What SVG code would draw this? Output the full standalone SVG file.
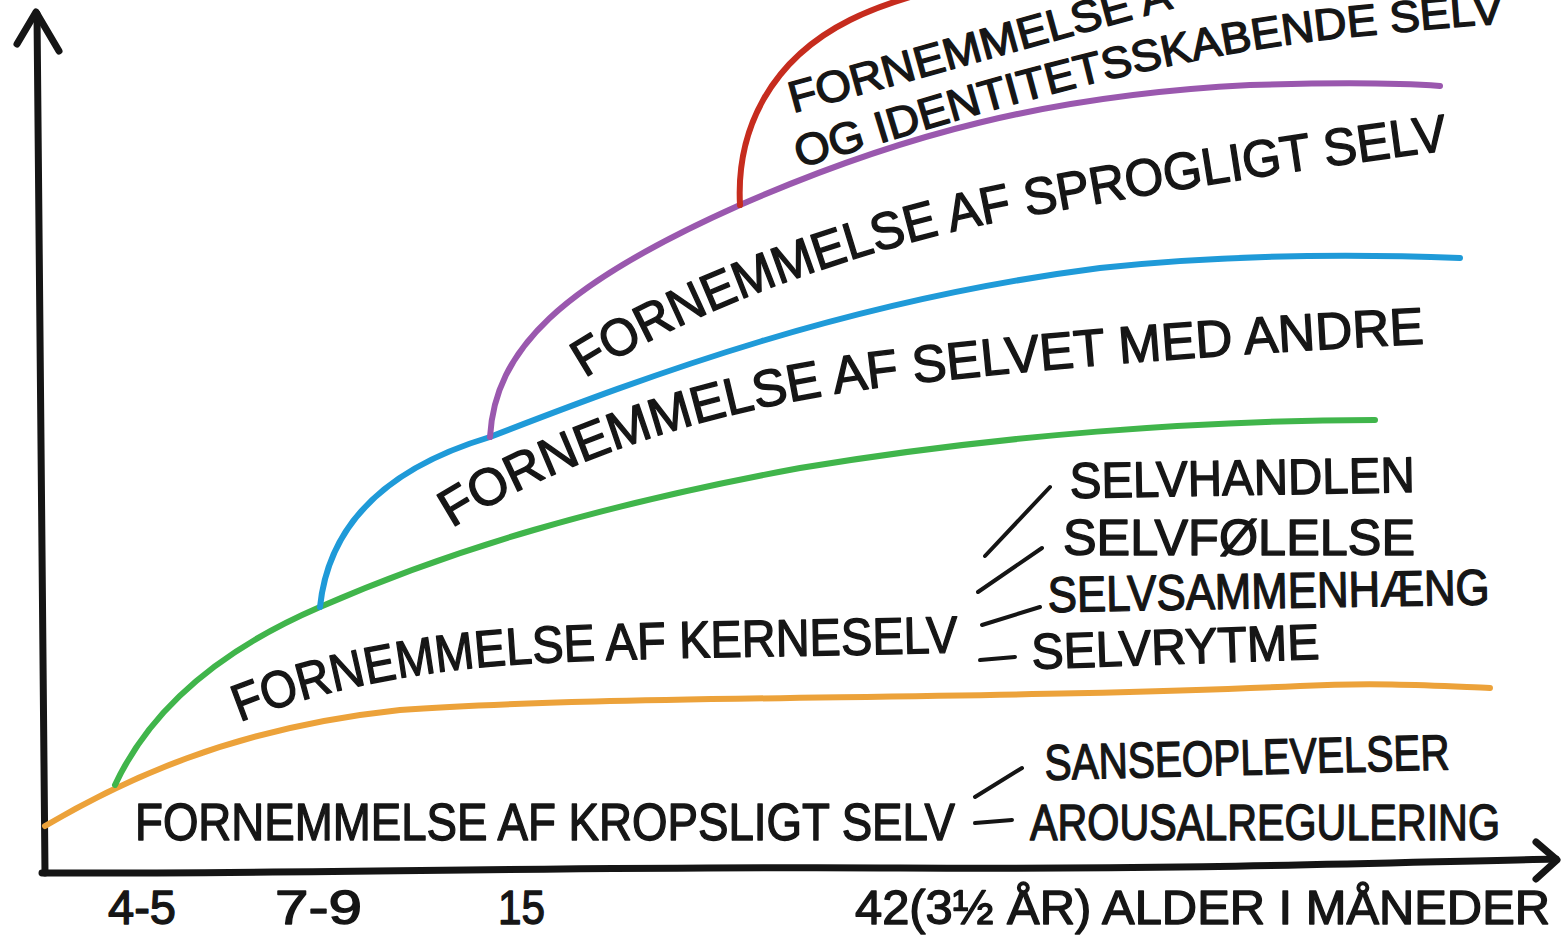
<svg xmlns="http://www.w3.org/2000/svg" width="1564" height="936" viewBox="0 0 1564 936">
  <style>
    .axis { fill: none; stroke: #151515; stroke-width: 7; stroke-linecap: round; stroke-linejoin: round; }
    .curve { fill: none; stroke-width: 6; stroke-linecap: round; }
    .dash { fill: none; stroke: #151515; stroke-width: 4; stroke-linecap: round; }
    .t { font-family: "Liberation Sans", "DejaVu Sans", sans-serif; fill: #161616; stroke: #161616; stroke-width: 1.4; stroke-linejoin: round; }
    .main { font-size: 52px; }
    .top { font-size: 44px; }
    .sub { font-size: 50px; }
    .tick { font-size: 48px; }
  </style>
  <defs>
    <path id="p-top" d="M793,113 C 900,84 1050,41 1200,1"/>
    <path id="p-ident" d="M800,168 C 950,122 1150,57 1350,37 S 1480,27 1525,27"/>
    <path id="p-sprog" d="M585,378 C 700,305 880,240 1050,212 C 1200,185 1330,165 1480,146"/>
    <path id="p-andre" d="M452,528 C 560,460 720,405 900,385 C 1100,362 1300,350 1440,343"/>
    <path id="p-kerne" d="M240,722 C 320,690 420,668 560,662 C 700,656 850,656 970,652"/>
  </defs>
  <rect width="1564" height="936" fill="#ffffff"/>

  <g id="axes">
    <path class="axis" d="M45,873 L37,14"/>
    <polyline class="axis" points="17,44 36,12 59,51"/>
    <path class="axis" d="M42,873 C 300,874 600,866 900,868 S 1400,862 1556,859"/>
    <polyline class="axis" points="1536,842 1557,860 1536,879"/>
    <text class="t tick" x="108" y="924" textLength="68" lengthAdjust="spacingAndGlyphs">4-5</text>
    <text class="t tick" x="275" y="924" textLength="87" lengthAdjust="spacingAndGlyphs">7-9</text>
    <text class="t tick" x="498" y="924" textLength="47" lengthAdjust="spacingAndGlyphs">15</text>
    <text class="t tick" x="855" y="924" textLength="695" lengthAdjust="spacingAndGlyphs">42(3½ ÅR) ALDER I MÅNEDER</text>
  </g>

  <g id="curves">
    <path class="curve" stroke="#ECA23A" d="M45,826 C 120,782 230,728 400,710 C 600,695 1000,700 1300,686 C 1380,682 1440,686 1490,688"/>
    <path class="curve" stroke="#40B54B" d="M115,785 C 150,710 220,650 320,607 C 450,550 600,505 800,468 C 1000,435 1200,420 1375,420"/>
    <path class="curve" stroke="#1F9AD8" d="M320,607 C 328,530 380,470 490,437 C 650,375 850,300 1100,268 C 1250,252 1380,255 1460,258"/>
    <path class="curve" stroke="#9A58AE" d="M490,437 C 495,350 560,285 740,205 C 900,135 1050,95 1250,85 C 1350,82 1400,83 1440,86"/>
    <path class="curve" stroke="#C62C1E" stroke-width="5" d="M740,205 C 736,130 770,60 850,20 C 870,10 890,3 910,-3"/>
  </g>

  <g id="node-fortaellende">
    <text class="t top"><textPath href="#p-top" textLength="395" lengthAdjust="spacingAndGlyphs">FORNEMMELSE A</textPath></text>
    <text class="t top"><textPath href="#p-ident" textLength="720" lengthAdjust="spacingAndGlyphs">OG IDENTITETSSKABENDE SELV</textPath></text>
  </g>

  <g id="node-sprogligt">
    <text class="t main"><textPath href="#p-sprog" textLength="900" lengthAdjust="spacingAndGlyphs">FORNEMMELSE AF SPROGLIGT SELV</textPath></text>
  </g>

  <g id="node-andre">
    <text class="t main"><textPath href="#p-andre" textLength="1000" lengthAdjust="spacingAndGlyphs">FORNEMMELSE AF SELVET MED ANDRE</textPath></text>
  </g>

  <g id="node-kerneselv">
    <text class="t main"><textPath href="#p-kerne" textLength="725" lengthAdjust="spacingAndGlyphs">FORNEMMELSE AF KERNESELV</textPath></text>
  </g>

  <g id="node-selvhandlen">
    <text class="t sub" x="1070" y="498" textLength="345" lengthAdjust="spacingAndGlyphs" transform="rotate(-1 1070 498)">SELVHANDLEN</text>
  </g>
  <g id="node-selvfoelelse">
    <text class="t sub" x="1063" y="555" textLength="352" lengthAdjust="spacingAndGlyphs">SELVFØLELSE</text>
  </g>
  <g id="node-selvsammenhaeng">
    <text class="t sub" x="1048" y="612" textLength="442" lengthAdjust="spacingAndGlyphs" transform="rotate(-1 1048 612)">SELVSAMMENHÆNG</text>
  </g>
  <g id="node-selvrytme">
    <text class="t sub" x="1032" y="669" textLength="288" lengthAdjust="spacingAndGlyphs" transform="rotate(-2 1032 669)">SELVRYTME</text>
  </g>

  <g id="node-kropsligt">
    <text class="t main" x="135" y="840" textLength="820" lengthAdjust="spacingAndGlyphs">FORNEMMELSE AF KROPSLIGT SELV</text>
  </g>
  <g id="node-sanseoplevelser">
    <text class="t sub" x="1045" y="780" textLength="405" lengthAdjust="spacingAndGlyphs" transform="rotate(-1.5 1045 780)">SANSEOPLEVELSER</text>
  </g>
  <g id="node-arousal">
    <text class="t sub" x="1030" y="840" textLength="470" lengthAdjust="spacingAndGlyphs">AROUSALREGULERING</text>
  </g>

  <g id="connectors">
    <path class="dash" stroke="#555" d="M985,556 L1050,487"/>
    <path class="dash" d="M978,592 L1042,548"/>
    <path class="dash" d="M982,625 L1040,607"/>
    <path class="dash" d="M980,660 L1015,657"/>
    <path class="dash" d="M975,797 L1022,768"/>
    <path class="dash" d="M975,823 L1012,820"/>
  </g>
</svg>
